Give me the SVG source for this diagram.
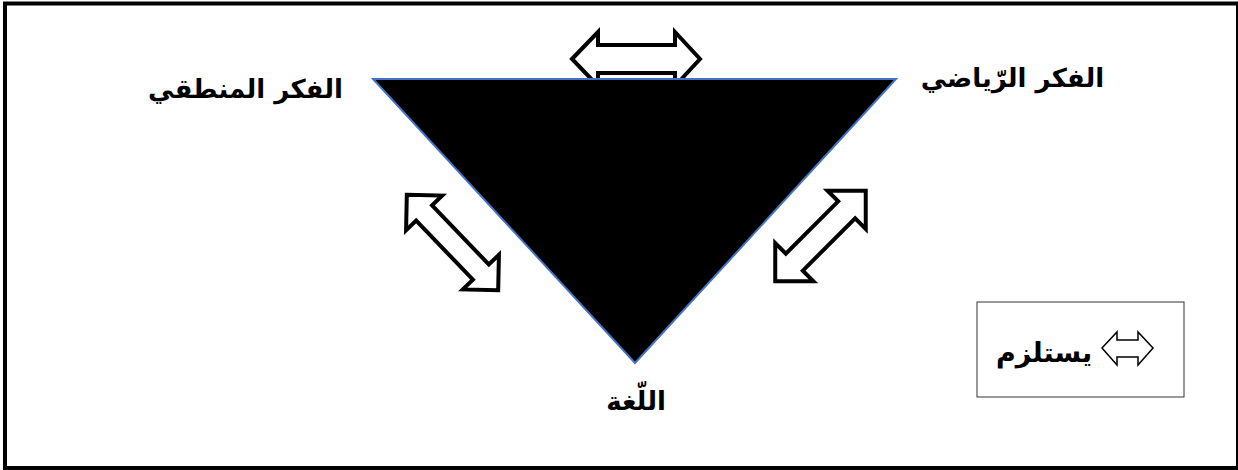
<svg xmlns="http://www.w3.org/2000/svg" width="1238" height="470" viewBox="0 0 1238 470">
<style>
.lbl{font-family:"DejaVu Sans","Noto Sans",sans-serif;font-weight:bold;font-size:26px;fill:#000;text-anchor:middle}
.arr{fill:#fff;stroke:#000;stroke-width:4;stroke-linejoin:miter}
</style>
<rect x="5" y="3.5" width="1233" height="464.5" fill="#fff" stroke="#000" stroke-width="4"/>
<g id="connectors">
<path class="arr" d="M572,59 L598,32 L598,45 L675,45 L675,32 L700,59 L675,86 L675,73 L598,73 L598,86 Z"/>
<g transform="translate(452.5,242.5) rotate(46.2)">
<path class="arr" d="M-66,0 L-41,-25 L-41,-11 L41,-11 L41,-25 L66,0 L41,25 L41,11 L-41,11 L-41,25 Z"/>
</g>
<g transform="translate(820.5,236) rotate(-45)">
<path class="arr" d="M-64,0 L-37,-27 L-37,-12 L37,-12 L37,-27 L64,0 L37,27 L37,12 L-37,12 L-37,27 Z"/>
</g>
</g>
<g id="triangle">
<polygon points="373,79 896,79 635,363" fill="#000" stroke="#4472C4" stroke-width="2"/>
</g>
<g id="node-logic"><text class="lbl" x="245.5" y="98">الفكر المنطقي</text></g>
<g id="node-math"><text class="lbl" x="1012.5" y="87">الفكر الرّياضي</text></g>
<g id="node-lang"><text class="lbl" x="636" y="410">اللّغة</text></g>
<g id="legend">
<rect x="977" y="302" width="207" height="95" fill="#fff" stroke="#333" stroke-width="1"/>
<path d="M1102,348 L1117,332 L1117,340 L1138,340 L1138,332 L1153,348 L1138,365 L1138,357 L1117,357 L1117,365 Z" fill="#fff" stroke="#000" stroke-width="1.5"/>
<text class="lbl" x="1044" y="362" style="font-size:27px">يستلزم</text>
</g>
</svg>
